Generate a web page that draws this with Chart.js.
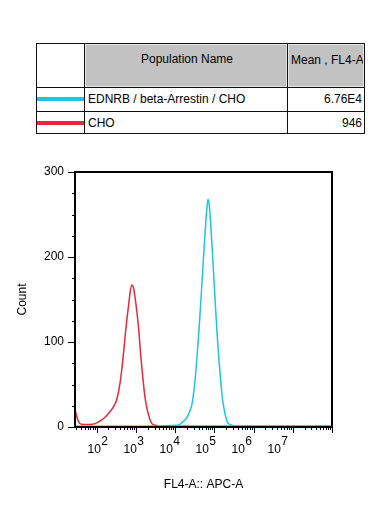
<!DOCTYPE html>
<html>
<head>
<meta charset="utf-8">
<script src="https://cdn.jsdelivr.net/npm/chart.js@4.4.0/dist/chart.umd.min.js"></script>
<style>
  body { margin: 0; width: 386px; height: 508px; background: #fff; position: relative; overflow: hidden;
         font-family: "Liberation Sans", Arial, sans-serif; font-size: 12px; color: #000; }
  .abs { position: absolute; }
  .linea { position: absolute; background: #111; }
  .cab { position: absolute; background: #c2c2c2; border: 1px solid #e6e6e6; box-sizing: border-box; overflow: hidden; white-space: nowrap; }
  .txt { position: absolute; white-space: nowrap; line-height: 14px; }
  #grafica { position: absolute; left: 0; top: 150px; }
</style>
</head>
<body>
<!-- tabla de poblaciones -->
<div class="abs" style="left:36px;top:43px;width:329px;height:91px;border:1px solid #111;box-sizing:border-box;"></div>
<div class="cab" style="left:85px;top:44px;width:202px;height:43px;"></div>
<div class="cab" style="left:288px;top:44px;width:76px;height:43px;">
  <span class="txt" style="left:2px;top:8px;">Mean , FL4-A</span>
</div>
<div class="linea" style="left:84px;top:43px;width:1px;height:91px;"></div>
<div class="linea" style="left:287px;top:43px;width:1px;height:91px;"></div>
<div class="linea" style="left:36px;top:87px;width:329px;height:1px;"></div>
<div class="linea" style="left:36px;top:111px;width:329px;height:1px;"></div>
<div class="txt" style="left:86px;top:52px;width:202px;text-align:center;">Population Name</div>

<div class="abs" id="muestra0" style="left:37px;top:97px;width:47px;height:4px;"></div>
<div class="txt" style="left:88px;top:92px;">EDNRB / beta-Arrestin / CHO</div>
<div class="txt" style="left:288px;top:92px;width:74px;text-align:right;">6.76E4</div>

<div class="abs" id="muestra1" style="left:37px;top:121px;width:47px;height:4px;"></div>
<div class="txt" style="left:88px;top:116px;">CHO</div>
<div class="txt" style="left:288px;top:116px;width:74px;text-align:right;">946</div>

<canvas id="grafica" width="386" height="358"></canvas>

<script>
const ednrbFL4 = [28.2, 1000, 11858, 15922, 19320, 23550, 26977, 30339, 33574, 36813, 40738, 44978, 49431,
  54576, 60395, 65163, 69024, 74473, 80910, 88920, 98175, 108643, 119399, 131826, 145546, 159956,
  176604, 195434, 214783, 247172, 400000, 1e8];
const ednrbCount = [1, 1, 2, 6, 10, 18, 27, 43, 63, 86, 114, 145, 176, 208, 239, 259, 268, 261, 239, 208,
  173, 137, 106, 78, 55, 35, 22, 12, 6, 3, 1, 1];

const choFL4 = [28.2, 34.8, 42, 68, 91, 112, 151, 202, 272, 330, 400, 442, 489, 537, 593, 655, 719, 796,
  879, 966, 1067, 1178, 1294, 1432, 1581, 1738, 1919, 2123, 2328, 2576, 3126, 4074, 10000, 100000, 1e8];
const choCount = [20, 6, 3, 3, 4, 6, 10, 16, 24, 33, 53, 69, 88, 108, 127, 143, 159, 167, 163, 151, 135,
  116, 92, 69, 49, 33, 22, 14, 8, 4, 2, 1, 1, 1, 1];

const seriesNames = ['EDNRB / beta-Arrestin / CHO', 'CHO'];
const seriesColors = ['#1fc3ea', '#e6283b'];
const yLabels = [0, 100, 200, 300];
const decadas = [2, 3, 4, 5, 6, 7];

const FUENTE = '"Liberation Sans", Arial, sans-serif';
Chart.defaults.font.family = FUENTE;
Chart.defaults.font.size = 12;
Chart.defaults.color = '#000';

document.getElementById('muestra0').style.background = seriesColors[0];
document.getElementById('muestra1').style.background = seriesColors[1];

const xMin = 28.2, xMax = 1e8;

// marcas del eje log: 1..9 x 10^n
const xTicks = [];
for (let n = 1; n <= 8; n++) {
  for (let k = 1; k <= 9; k++) {
    const v = k * Math.pow(10, n);
    if (v >= xMin && v <= xMax) xTicks.push(v);
  }
}

const marco = {
  id: 'marco',
  afterDatasetsDraw(chart) {
    const { ctx, chartArea: a, scales } = chart;
    ctx.save();
    ctx.strokeStyle = '#000';
    ctx.lineWidth = 1;
    // ticks eje x
    scales.x.ticks.forEach(t => {
      const px = Math.round(scales.x.getPixelForValue(t.value)) + 0.5;
      const mayor = Math.abs(Math.log10(t.value) - Math.round(Math.log10(t.value))) < 1e-9;
      ctx.beginPath();
      ctx.moveTo(px, a.bottom);
      ctx.lineTo(px, a.bottom + (mayor ? 6 : 3));
      ctx.stroke();
    });
    // ticks eje y
    scales.y.ticks.forEach(t => {
      const py = Math.round(scales.y.getPixelForValue(t.value)) + 0.5;
      ctx.beginPath();
      ctx.moveTo(a.left, py);
      ctx.lineTo(a.left - (t.value % 100 === 0 ? 7 : 3), py);
      ctx.stroke();
    });
    // marco
    ctx.lineWidth = 2;
    ctx.strokeRect(a.left, a.top, a.right - a.left, a.bottom - a.top);
    // etiquetas 10^n
    ctx.fillStyle = '#000';
    ctx.font = '12px ' + FUENTE;
    ctx.textBaseline = 'alphabetic';
    decadas.forEach(n => {
      const px = scales.xLab.getPixelForValue(Math.pow(10, n));
      ctx.textAlign = 'right';
      ctx.fillText('10', px + 3, a.bottom + 26);
      ctx.textAlign = 'left';
      ctx.fillText(String(n), px + 3.5, a.bottom + 18);
    });
    ctx.restore();
  }
};

new Chart(document.getElementById('grafica'), {
  type: 'line',
  data: {
    datasets: [
      {
        label: seriesNames[0],
        data: ednrbFL4.map((x, i) => ({ x, y: ednrbCount[i] })),
        borderColor: seriesColors[0],
        borderWidth: 1.5,
        pointRadius: 0,
        cubicInterpolationMode: 'monotone',
        fill: false
      },
      {
        label: seriesNames[1],
        data: choFL4.map((x, i) => ({ x, y: choCount[i] })),
        borderColor: seriesColors[1],
        borderWidth: 1.5,
        pointRadius: 0,
        cubicInterpolationMode: 'monotone',
        fill: false
      }
    ]
  },
  options: {
    responsive: false,
    animation: false,
    layout: { padding: { left: 0, top: 22, right: 54, bottom: 0 } },
    plugins: { legend: { display: false }, tooltip: { enabled: false } },
    scales: {
      x: {
        type: 'logarithmic',
        min: xMin,
        max: xMax,
        afterBuildTicks: s => { s.ticks = xTicks.map(v => ({ value: v })); },
        ticks: { display: false },
        grid: { display: false },
        border: { display: false },
        title: { display: true, text: 'FL4-A:: APC-A', font: { size: 12 }, padding: { bottom: 16 } },
        afterFit: s => { s.height = 81; }
      },
      xLab: {
        type: 'logarithmic',
        display: false,
        position: 'bottom',
        min: 23.26,
        max: 3.2e8
      },
      y: {
        min: 0,
        max: 300,
        ticks: {
          stepSize: 25,
          autoSkip: false,
          padding: 4,
          font: { size: 12 },
          callback: v => yLabels.includes(v) ? String(v) : ''
        },
        grid: { drawOnChartArea: false, tickLength: 7, tickColor: 'transparent' },
        border: { display: false },
        title: { display: true, text: 'Count', font: { size: 12 }, padding: { top: 15 } },
        afterFit: s => { s.width = 75; }
      }
    }
  },
  plugins: [marco]
});
</script>
</body>
</html>
